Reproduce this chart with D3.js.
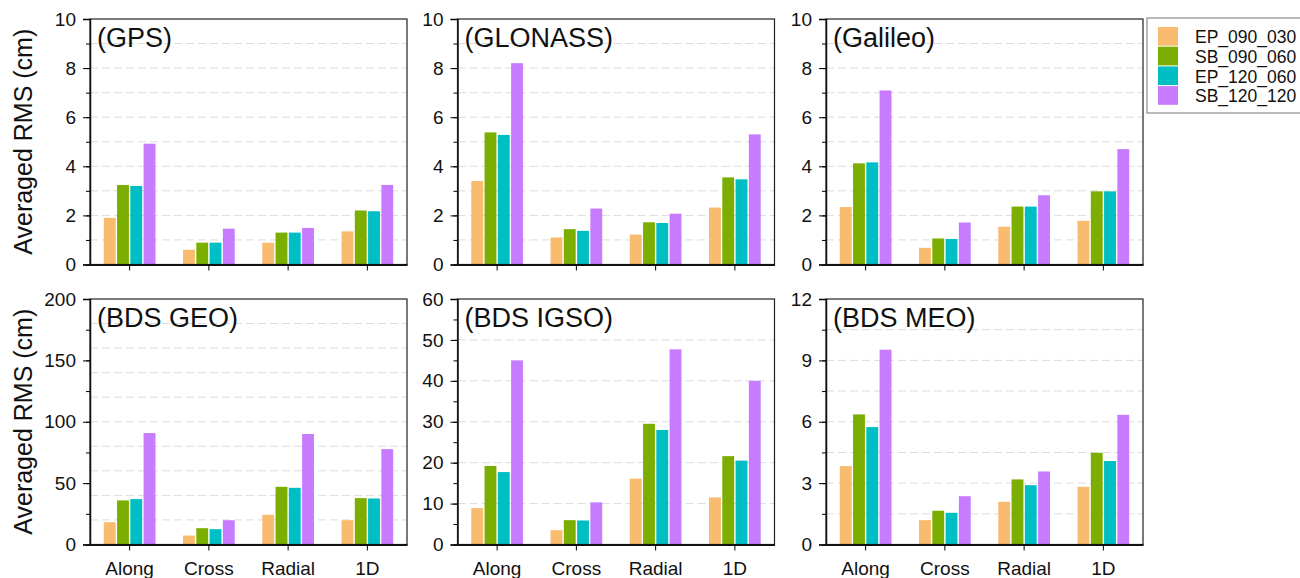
<!DOCTYPE html>
<html>
    <head>
        <meta charset="utf-8">
        <script src="https://d3js.org/d3.v7.min.js"></script>
        <title>Averaged RMS</title>
        <style>
            body { margin: 0; background: #fff; }
            svg { display: block; font-family: "Liberation Sans", Arial, Helvetica, sans-serif; }
            .tick text { fill: #111; }
        </style>
    </head>
    <body>
        <svg></svg>
    </body>
    <script>
        // categories and series
        var categories = ['Along', 'Cross', 'Radial', '1D'];
        var series = ['EP_090_030', 'SB_090_060', 'EP_120_060', 'SB_120_120'];
        var seriesColors = ['#F9BB6D', '#7BAE00', '#00BFC4', '#C77CFF'];
        var systems = ['GPS', 'GLONASS', 'Galileo', 'BDS GEO', 'BDS IGSO', 'BDS MEO'];

        // values: one row per category, one column per series
        var gpsValues     = [[1.90, 3.24, 3.20, 4.92], [0.60, 0.89, 0.89, 1.46], [0.89, 1.30, 1.30, 1.49], [1.35, 2.20, 2.17, 3.24]];
        var glonassValues = [[3.40, 5.38, 5.28, 8.20], [1.10, 1.44, 1.37, 2.28], [1.22, 1.72, 1.69, 2.07], [2.32, 3.55, 3.47, 5.30]];
        var galileoValues = [[2.34, 4.12, 4.16, 7.09], [0.68, 1.06, 1.04, 1.71], [1.54, 2.36, 2.36, 2.82], [1.78, 2.98, 2.98, 4.70]];
        var bdsGeoValues  = [[18.2, 35.9, 37.0, 90.8], [7.3, 13.3, 12.5, 19.8], [24.2, 47.0, 46.2, 90.0], [19.8, 37.8, 37.5, 77.7]];
        var bdsIgsoValues = [[8.9, 19.2, 17.7, 45.0], [3.5, 5.95, 5.87, 10.3], [16.1, 29.5, 28.0, 47.7], [11.5, 21.6, 20.5, 40.0]];
        var bdsMeoValues  = [[3.83, 6.36, 5.74, 9.52], [1.19, 1.65, 1.55, 2.36], [2.09, 3.18, 2.90, 3.57], [2.82, 4.48, 4.08, 6.34]];
        var allValues = [gpsValues, glonassValues, galileoValues, bdsGeoValues, bdsIgsoValues, bdsMeoValues];

        // y axis ticks per panel
        var yMaxes      = [10, 10, 10, 200, 60, 12];
        var majorSteps  = [2, 2, 2, 50, 10, 3];
        var minorSteps  = [1, 1, 1, 25, 5, 1.5];
        var gridSteps   = [1, 1, 1, 20, 10, 1.5];

        // size
        var W = 1300, H = 578;
        var panelLefts = [90, 457.5, 826],
            panelTops = [19, 299],
            panelW = 317,
            panelH = 245.5;

        var svg = d3.select('svg')
            .attr('width', W)
            .attr('height', H);

        function steps(max, step) {
            var n = Math.round(max / step);
            return d3.range(n + 1).map(function (i) { return +(i * step).toFixed(4); });
        }

        systems.forEach(function (name, p) {
            var col = p % 3, row = Math.floor(p / 3);
            var g = svg.append('g')
                .attr('transform', 'translate(' + panelLefts[col] + ',' + panelTops[row] + ')');

            var x = d3.scaleBand().domain(categories).range([0, panelW]).padding(0);
            var xs = d3.scaleBand().domain(series)
                .range([-x.bandwidth() * 0.335, x.bandwidth() * 0.335]).padding(0);
            var y = d3.scaleLinear().domain([0, yMaxes[p]]).range([panelH, 0]);

            // dashed grid
            g.selectAll('.grid')
                .data(steps(yMaxes[p], gridSteps[p]).filter(function (v) { return v > 0 && v < yMaxes[p]; }))
                .enter().append('line')
                    .attr('class', 'grid')
                    .attr('x1', 0).attr('x2', panelW)
                    .attr('y1', function (d) { return y(d); })
                    .attr('y2', function (d) { return y(d); })
                    .attr('stroke', '#dcdcdc')
                    .attr('stroke-width', 1)
                    .attr('stroke-dasharray', '8,4');

            // bars
            var groups = g.selectAll('.grp')
                .data(allValues[p])
                .enter().append('g')
                    .attr('class', 'grp')
                    .attr('transform', function (d, i) {
                        return 'translate(' + (x(categories[i]) + x.bandwidth() / 2) + ',0)';
                    });

            groups.selectAll('rect')
                .data(function (d) { return d; })
                .enter().append('rect')
                    .attr('x', function (d, i) { return xs(series[i]) + 0.7; })
                    .attr('width', xs.bandwidth() - 1.4)
                    .attr('y', function (d) { return y(d); })
                    .attr('height', function (d) { return panelH - y(d); })
                    .style('fill', function (d, i) { return seriesColors[i]; });

            // frame
            g.append('rect')
                .attr('width', panelW).attr('height', panelH)
                .attr('fill', 'none')
                .attr('stroke', '#222')
                .attr('stroke-width', 1.2);

            // y axis, minor then major
            g.append('g')
                .call(d3.axisLeft(y).tickValues(steps(yMaxes[p], minorSteps[p])).tickSize(4).tickFormat(''))
                .call(function (a) { a.select('.domain').remove(); });

            g.append('g')
                .attr('class', 'y axis')
                .call(d3.axisLeft(y).tickValues(steps(yMaxes[p], majorSteps[p])).tickSize(7).tickPadding(7))
                .call(function (a) {
                    a.select('.domain').attr('stroke', '#111').attr('stroke-width', 1.5);
                    a.selectAll('.tick text').style('font-size', '19px');
                });

            // x axis
            g.append('g')
                .attr('class', 'x axis')
                .attr('transform', 'translate(0,' + panelH + ')')
                .call(d3.axisBottom(x).tickSize(6).tickPadding(11).tickSizeOuter(0)
                    .tickFormat(row === 1 ? null : ''))
                .call(function (a) {
                    a.select('.domain').attr('stroke', '#111').attr('stroke-width', 1.8);
                    a.selectAll('.tick text').style('font-size', '19px');
                });

            // panel label
            g.append('text')
                .attr('x', 7)
                .attr('y', 28)
                .style('font-size', '27px')
                .attr('fill', '#111')
                .text('(' + name + ')');

            // y title
            if (col === 0) {
                g.append('text')
                    .attr('transform', 'translate(-58,' + (panelH / 2) + ') rotate(-90)')
                    .style('text-anchor', 'middle')
                    .style('font-size', '25px')
                    .attr('fill', '#111')
                    .text('Averaged RMS (cm)');
            }
        });

        // legend
        var legend = svg.append('g')
            .attr('transform', 'translate(1147,18)');

        legend.append('rect')
            .attr('width', 170)
            .attr('height', 95)
            .attr('fill', '#fff')
            .attr('stroke', '#777')
            .attr('stroke-width', 1);

        var items = legend.selectAll('.legend')
            .data(series)
            .enter().append('g')
                .attr('class', 'legend')
                .attr('transform', function (d, i) { return 'translate(11,' + (9 + i * 19.7) + ')'; });

        items.append('rect')
            .attr('width', 20)
            .attr('height', 18.7)
            .style('fill', function (d, i) { return seriesColors[i]; });

        items.append('text')
            .attr('x', 37)
            .attr('y', 10)
            .attr('dy', '.35em')
            .style('font-size', '17.5px')
            .attr('fill', '#111')
            .text(function (d) { return d; });
    </script>
</html>
